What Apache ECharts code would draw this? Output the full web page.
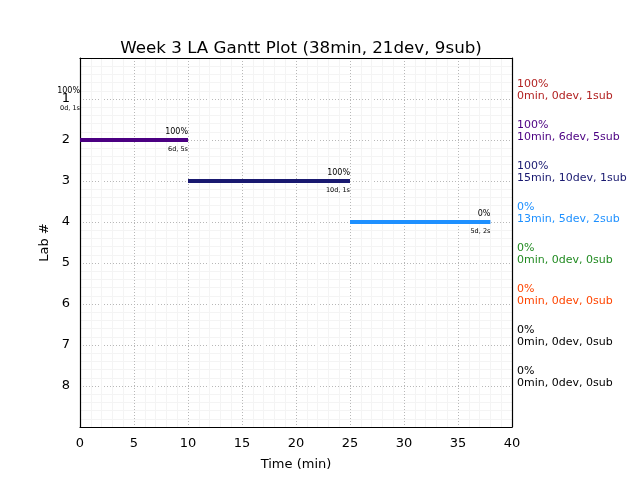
<!DOCTYPE html>
<html><head><meta charset="utf-8">
<script src="https://cdn.jsdelivr.net/npm/echarts@6/dist/echarts.min.js"></script>
<style>html,body{margin:0;padding:0;background:#fff}#c{width:640px;height:480px}</style>
</head><body><div id="c"></div>
<script>
const labs = [1, 2, 3, 4, 5, 6, 7, 8];
const starts = [0, 0, 10, 25, 0, 0, 0, 0];
const ends = [0, 10, 25, 38, 0, 0, 0, 0];
const pct = ['100%', '100%', '100%', '0%', '0%', '0%', '0%', '0%'];
const barNotes = ['0d, 1s', '6d, 5s', '10d, 1s', '5d, 2s', '', '', '', ''];
const summaries = ['0min, 0dev, 1sub', '10min, 6dev, 5sub', '15min, 10dev, 1sub', '13min, 5dev, 2sub',
  '0min, 0dev, 0sub', '0min, 0dev, 0sub', '0min, 0dev, 0sub', '0min, 0dev, 0sub'];
const colors = ['#B22222', '#4B0082', '#191970', '#1E90FF', '#228B22', '#FF4500', '#000000', '#000000'];
const drawn = [true, true, true, true, false, false, false, false];
const xTicks = [0, 5, 10, 15, 20, 25, 30, 35, 40];

const FONT = 'DejaVu Sans';
const series = [];
const solid = { itemStyle: { opacity: 1 } };
labs.forEach((lab, i) => {
  if (drawn[i] && ends[i] > starts[i]) {
    series.push({
      type: 'line', data: [[starts[i], lab], [ends[i], lab]],
      showSymbol: false, lineStyle: { color: colors[i], width: 4 }, silent: true, z: 3
    });
  }
  if (drawn[i]) {
    series.push(Object.assign({
      type: 'scatter', symbolSize: 0, clip: false, silent: true, z: 4,
      data: [[ends[i], lab]],
      label: { show: true, position: 'left', distance: 0, offset: [0, -8], formatter: pct[i],
        fontFamily: FONT, fontSize: 8, color: '#000', opacity: 1 }
    }, solid));
    series.push(Object.assign({
      type: 'scatter', symbolSize: 0, clip: false, silent: true, z: 4,
      data: [[ends[i], lab]],
      label: { show: true, position: 'left', distance: 0, offset: [0, 9], formatter: barNotes[i],
        fontFamily: FONT, fontSize: 6.5, color: '#000', opacity: 1 }
    }, solid));
  }
  series.push(Object.assign({
    type: 'scatter', symbolSize: 0, clip: false, silent: true, z: 4,
    data: [[40, lab]],
    label: { show: true, position: 'right', distance: 5, offset: [0, -9],
      formatter: pct[i] + '\n' + summaries[i], align: 'left', verticalAlign: 'middle',
      fontFamily: FONT, fontSize: 11, lineHeight: 12, color: colors[i], opacity: 1 }
  }, solid));
});

const gridLine = { show: true, lineStyle: { color: '#b8b8b8', type: [1, 2], width: 1 } };
const minorLine = { show: true, lineStyle: { color: '#f4f4f4', width: 1 } };
const border = { show: true, onZero: false, lineStyle: { color: '#000', width: 1.2 } };
const chart = echarts.init(document.getElementById('c'), null, { renderer: 'canvas' });
chart.setOption({
  animation: false,
  title: { text: 'Week 3 LA Gantt Plot (38min, 21dev, 9sub)', left: 296, textAlign: 'center', top: 35,
    textStyle: { fontFamily: FONT, fontSize: 16.7, fontWeight: 'normal', color: '#000' } },
  grid: { left: 80, top: 58, width: 432, height: 369, show: false, containLabel: false },
  xAxis: [{
    type: 'value', min: 0, max: 40, interval: 5, position: 'bottom',
    name: 'Time (min)', nameLocation: 'middle', nameGap: 31,
    nameTextStyle: { fontFamily: FONT, fontSize: 13, color: '#000' },
    axisLine: border, axisTick: { show: false },
    axisLabel: { fontFamily: FONT, fontSize: 13, color: '#000', margin: 10,
      formatter: v => xTicks.includes(v) ? String(v) : '' },
    splitLine: gridLine,
    minorTick: { show: false, splitNumber: 5 },
    minorSplitLine: minorLine
  }, {
    type: 'value', min: 0, max: 40, position: 'top', axisLine: border, axisTick: { show: false },
    axisLabel: { show: false }, splitLine: { show: false }
  }],
  yAxis: [{
    type: 'value', min: 0, max: 9, interval: 1, inverse: true, position: 'left',
    name: 'Lab #', nameLocation: 'middle', nameGap: 23,
    nameTextStyle: { fontFamily: FONT, fontSize: 13, color: '#000' },
    axisLine: border, axisTick: { show: false },
    axisLabel: { fontFamily: FONT, fontSize: 13, color: '#000', margin: 10,
      formatter: v => labs.includes(v) ? String(v) : '' },
    splitLine: gridLine,
    minorTick: { show: false, splitNumber: 5 },
    minorSplitLine: minorLine
  }, {
    type: 'value', min: 0, max: 9, inverse: true, position: 'right', axisLine: border, axisTick: { show: false },
    axisLabel: { show: false }, splitLine: { show: false }
  }],
  series: series
});
</script></body></html>
